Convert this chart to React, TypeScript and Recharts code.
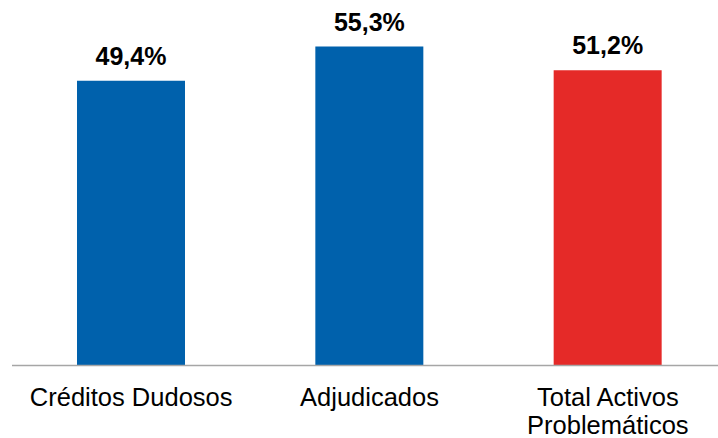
import { BarChart, Bar, XAxis, YAxis, Cell, LabelList } from 'recharts';

const CATEGORIES = ['Créditos Dudosos', 'Adjudicados', 'Total Activos Problemáticos'];
const TICK_LINES = [['Créditos Dudosos'], ['Adjudicados'], ['Total Activos', 'Problemáticos']];
const VALUES = [49.4, 55.3, 51.2];
const COLORS = ['#0061ac', '#0061ac', '#e52a28'];

const FONT = "'Liberation Sans', Arial, sans-serif";

const data = CATEGORIES.map((name, i) => ({ name, value: VALUES[i] }));

function CategoryTick({ x, y, index }: any) {
  const lines = TICK_LINES[index] ?? [];
  return (
    <text x={x} y={y} textAnchor="middle" fill="#000" fontSize={25.5} fontFamily={FONT}>
      {lines.map((line, i) => (
        <tspan key={i} x={x} dy={i === 0 ? 40 : 28.5}>
          {line}
        </tspan>
      ))}
    </text>
  );
}

const fmt = (v: any) => `${Number(v).toFixed(1).replace('.', ',')}%`;

export default function App() {
  return (
    <div
      style={{
        position: 'absolute',
        left: 0,
        top: 0,
        width: 718,
        height: 438,
        overflow: 'hidden',
        background: '#fff',
      }}
    >
      <BarChart
        width={730}
        height={438}
        data={data}
        margin={{ top: 19.5, right: 3, bottom: 0, left: 12 }}
      >
        <XAxis
          dataKey="name"
          height={72.5}
          tickSize={0}
          tickMargin={0}
          tickLine={false}
          axisLine={{ stroke: '#a6a6a6', strokeWidth: 1.5 }}
          tick={<CategoryTick />}
          interval={0}
        />
        <YAxis hide domain={[0, 60]} />
        <Bar dataKey="value" barSize={108} isAnimationActive={false}>
          {data.map((d, i) => (
            <Cell key={d.name} fill={COLORS[i]} />
          ))}
          <LabelList
            dataKey="value"
            position="top"
            offset={16}
            formatter={fmt}
            fill="#000"
            fontSize={25}
            fontWeight="bold"
            fontFamily={FONT}
          />
        </Bar>
      </BarChart>
    </div>
  );
}
